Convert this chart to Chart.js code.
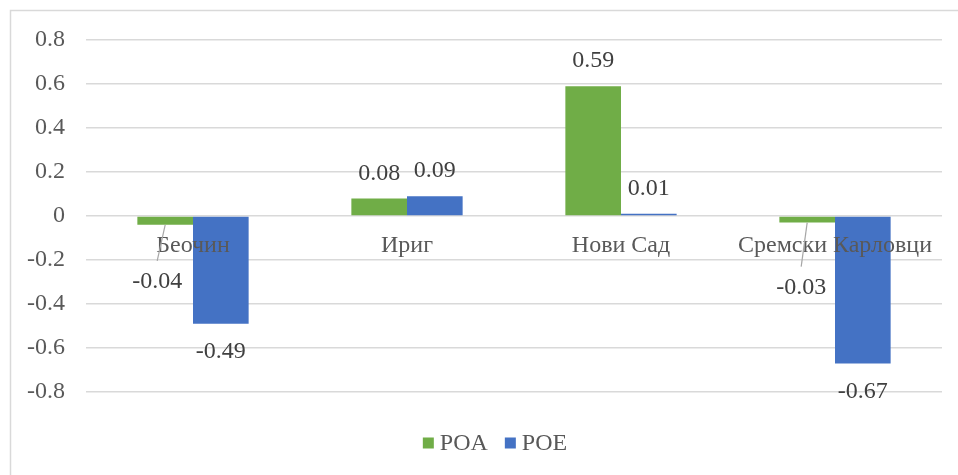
<!DOCTYPE html>
<html>
<head>
<meta charset="utf-8">
<script src="https://cdn.jsdelivr.net/npm/chart.js@4/dist/chart.umd.min.js"></script>
<style>
  html, body { margin: 0; padding: 0; background: #ffffff; }
  canvas { display: block; }
</style>
</head>
<body>
<canvas id="chart" width="958" height="475"></canvas>
<script>
// Municipalities and their return ratios
const categories = ['Беочин', 'Ириг', 'Нови Сад', 'Сремски Карловци'];
const poaValues = [-0.04, 0.08, 0.59, -0.03];
const poeValues = [-0.49, 0.09, 0.01, -0.67];
const seriesNames = ['POA', 'POE'];

const FONT = '"Liberation Serif", "Times New Roman", serif';
const FONT_SIZE = 24;
const AXIS_COLOR = '#595959';
const LABEL_COLOR = '#404040';

// Frame around the whole chart
const framePlugin = {
  id: 'frame',
  beforeDraw(chart) {
    const ctx = chart.ctx;
    ctx.save();
    ctx.strokeStyle = '#d9d9d9';
    ctx.lineWidth = 1.5;
    ctx.strokeRect(10.5, 10.5, chart.width + 20, chart.height + 20);
    ctx.restore();
  }
};

// Category names written along the zero line, on top of the bars
const categoryLabelPlugin = {
  id: 'categoryLabels',
  afterDatasetsDraw(chart) {
    const ctx = chart.ctx;
    const xs = chart.scales.x, ys = chart.scales.y;
    const y0 = ys.getPixelForValue(0);
    ctx.save();
    ctx.font = FONT_SIZE + 'px ' + FONT;
    ctx.fillStyle = AXIS_COLOR;
    ctx.textAlign = 'center';
    ctx.textBaseline = 'middle';
    chart.data.labels.forEach((lab, i) => {
      ctx.fillText(lab, xs.getPixelForValue(i), y0 + 30);
    });
    ctx.restore();
  }
};

// Value labels above / below each bar, with leader lines for moved labels
const valueLabelPlugin = {
  id: 'valueLabels',
  afterDatasetsDraw(chart, args, opts) {
    const ctx = chart.ctx;
    const nudges = opts.nudges || {};
    ctx.save();
    ctx.font = FONT_SIZE + 'px ' + FONT;
    ctx.fillStyle = LABEL_COLOR;
    ctx.textAlign = 'center';
    ctx.textBaseline = 'middle';
    chart.data.datasets.forEach((ds, di) => {
      const meta = chart.getDatasetMeta(di);
      meta.data.forEach((bar, i) => {
        const v = ds.data[i];
        let x = bar.x;
        let y = v >= 0 ? bar.y - 25 : bar.y + 28;
        const n = nudges[di + ':' + i];
        if (n) {
          x += n[0];
          y += n[1];
          ctx.save();
          ctx.strokeStyle = '#a6a6a6';
          ctx.lineWidth = 1.2;
          ctx.beginPath();
          ctx.moveTo(bar.x, bar.y);
          ctx.lineTo(x, y - 21);
          ctx.stroke();
          ctx.restore();
        }
        ctx.fillText(v.toFixed(2), x, y);
      });
    });
    ctx.restore();
  }
};

// Legend row below the plot
const legendPlugin = {
  id: 'bottomLegend',
  afterDraw(chart) {
    const ctx = chart.ctx;
    ctx.save();
    ctx.font = FONT_SIZE + 'px ' + FONT;
    ctx.textBaseline = 'middle';
    ctx.textAlign = 'left';
    const box = 11, gap = 6, itemGap = 17;
    const items = chart.data.datasets.map(d => ({ label: d.label, color: d.backgroundColor }));
    let total = 0;
    items.forEach((it, i) => {
      it.w = box + gap + ctx.measureText(it.label).width;
      total += it.w + (i ? itemGap : 0);
    });
    let x = 495 - total / 2;
    const yc = 443;
    items.forEach(it => {
      ctx.fillStyle = it.color;
      ctx.fillRect(x, yc - box / 2, box, box);
      ctx.fillStyle = AXIS_COLOR;
      ctx.fillText(it.label, x + box + gap, yc + 1);
      x += it.w + itemGap;
    });
    ctx.restore();
  }
};

new Chart(document.getElementById('chart'), {
  type: 'bar',
  data: {
    labels: categories,
    datasets: [
      { label: seriesNames[0], data: poaValues, backgroundColor: '#70AD47' },
      { label: seriesNames[1], data: poeValues, backgroundColor: '#4472C4' }
    ]
  },
  options: {
    responsive: false,
    animation: false,
    layout: { padding: { left: 0, right: 16, top: 40, bottom: 83 } },
    datasets: {
      bar: { categoryPercentage: 0.52, barPercentage: 1.0, borderWidth: 0 }
    },
    scales: {
      x: {
        display: false
      },
      y: {
        min: -0.8,
        max: 0.8,
        afterFit(scale) { scale.width = 86; },
        grid: { color: '#d9d9d9', lineWidth: 1.5, drawTicks: false },
        border: { display: false },
        ticks: {
          stepSize: 0.2,
          padding: 21,
          color: AXIS_COLOR,
          font: { family: FONT, size: FONT_SIZE },
          callback: v => String(Number(v.toFixed(1)))
        }
      }
    },
    plugins: {
      legend: { display: false },
      tooltip: { enabled: false },
      valueLabels: { nudges: { '0:0': [-8, 29], '0:3': [-6, 37] } }
    }
  },
  plugins: [framePlugin, categoryLabelPlugin, valueLabelPlugin, legendPlugin]
});
</script>
</body>
</html>
